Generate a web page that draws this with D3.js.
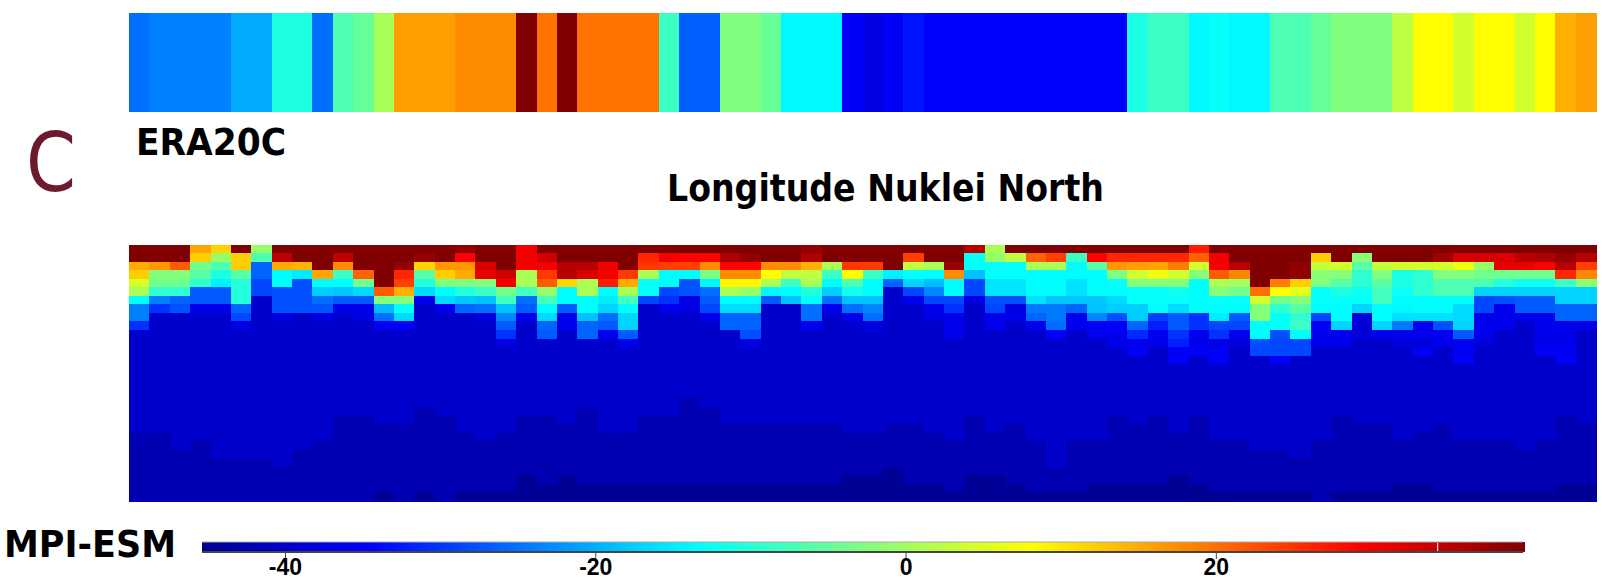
<html>
<head>
	<meta charset="utf-8">
	<title>Longitude Nuklei North</title>
	<style>
	body { margin: 0; background: #fff; }
	svg { display: block; }
	.cell { shape-rendering: crispEdges; }
	.title { font-family: "DejaVu Sans", sans-serif; font-weight: bold; fill: #000; }
	.axis path { display: none; }
	.axis line { stroke: #444; }
	.axis text { font-family: "Liberation Sans", sans-serif; font-weight: bold; font-size: 23px; fill: #000; }
	</style>
</head>
<body>
<script src="https://cdn.jsdelivr.net/npm/d3@7"></script>
<script>

	// upper strip (ERA20C), one value per longitude column
	var stripValues = [
		-25.5,-24,-24,-24,-24,-20.4,-20.4,-11,-11,-25.5,-7,-5,0.7,16,16,16,17.5,17.5,17.5,40,
		19.5,40,19.5,19.5,19.5,19.5,-8.5,-26.8,-26.8,-2.7,-2.7,-5,-14,-14,-14,-35.6,-37.5,-35.6,-33,-34.7,
		-34.7,-34.7,-34.7,-34.7,-34.7,-34.7,-34.7,-34.7,-34.7,-11,-8.5,-8.5,-13.8,-13,-14,-14,-7,-7,-5,-2.7,
		-2.7,-2.7,2.3,8,8,4,8,8,4,8,14.5,16
	];

	// lower field (MPI-ESM), one array per column, from the top row down
	var columnTops = [
		[40,40,15,12,4.5,0.7,-13.5,-24,-24,-30.5],
		[40,40,16.5,-2.5,-4,-9.5,-24,-30.5],
		[40,40,21.5,-2.5,-4,-9.5,-26.3,-28],
		[15.5,12,-4,-6,-9.5,-27.2,-27.2,-36.5],
		[11.5,-1,-7,-11,-14.5,-27.2,-27.2,-36.5],
		[40,12,12,-6,-10.5,-10.5,-10.5,-26.3,-28.8,-37.5],
		[-1,-7,-26.3,-26.3,-28.8,-28.8],
		[40,34.5,15,-13.5,-13.5,-28,-28,-28,-37.5],
		[40,40,14.5,-15,-28,-28,-28,-28],
		[40,40,40,15.5,-13.5,-17.5,-25.5,-27.6,-37.5],
		[40,34.5,17.5,-8.5,-13.5,-18,-27.2,-36.5],
		[40,40,40,21,-4,-16.5,-27.2,-36.5,-37.5],
		[40,40,40,40,40,21.5,-2.5,-19,-25.5,-35.6],
		[40,40,38,26,24,14.5,-2.5,-13,-16.5,-35.6],
		[40,38,11.5,-6,-10.5,-16.5,-36.5],
		[40,40,16.5,12,-3,-13.5,-16.5,-36.5],
		[38,29,16.5,15,-3,-10.5,-18,-26.3],
		[40,40,32,31,-2.5,-8.5,-18.5,-25.5,-37.5],
		[40,40,40,33,30,-4,-8,-18.5,-23.5,-27.2,-30.5,-37.5],
		[30,30,30,0.7,0.7,-8,-25.5,-27.2,-36.5],
		[40,33,30,24.5,21.5,-1,-8,-13.5,-16.5,-26.3,-27.2],
		[40,40,35,35,11,-13.5,-13.5,-27.2,-36.5,-36.5],
		[40,40,35,32,0.7,0.7,-13.5,-13.5,-18.5,-26.3,-26.3],
		[40,40,30,30,27,-13.5,-15,-17,-25.5,-27.2,-36.5],
		[40,40,40,24.5,15,0.7,-8,-13.5,-17,-17,-27.2,-36.5],
		[40,26,24.5,0.7,-13,-13,-28.8],
		[40,30,24,-13.5,-13.5,-28.8,-30.5,-36.5],
		[40,29,24,-13.5,-27.6,-27.6,-37.5,-37.5],
		[40,29,17.5,-3,-14,-25.5,-27.2,-28.8,-36.5],
		[40,36,29,17.5,8.5,0.7,-13.5,-16.5,-26.3,-26.3],
		[40,38,29,17.5,8.5,-1,-13.5,-16.5,-26.3,-26.3,-28,-37.5],
		[40,40,17.5,8,0.7,-14,-27.2],
		[40,40,17.5,2.5,-8.5,-13.5,-18.5],
		[38,36,14.5,2.5,0.7,-10.5,-13.5,-25.5,-25.5,-36.5],
		[40,40,0.7,-8.5,-13.5,-17.5,-25.5,-36.5],
		[40,40,24.5,8,-7,-12,-18.5,-25.5,-36.5],
		[40,40,24.5,-8.5,-13.5,-13.5,-18.5,-23.5,-25.5,-37.5],
		[40,40,40,-14.5,-26.3],
		[40,24,2.5,-13,-17,-28.8,-36.5],
		[40,40,0.7,-13.5,-19,-23.5,-28.8,-36.5,-37.5],
		[40,40,37.5,17.5,-13.5,-13.5,-28.8,-30.5,-36.5,-36.5,-36.5],
		[35,-13,-13,-18.5,-28.8,-28.8,-37.5],
		[0.7,-1,-13,-13,-15.5,-15.5,-28,-28.8,-36.5,-36.5],
		[40,2.5,-13,-13,-15.5,-15.5,-28,-37.5,-36.5],
		[40,21,0.7,-13.5,-13.5,-13.5,-16,-24.6,-26.3,-36.5],
		[40,24,0.7,-13.5,-13.5,-13.5,-18,-24.6,-24.6,-25.5,-35.6],
		[40,-8.5,-13.5,-13.5,-16,-16,-18,-26.3,-36.5,-36.5],
		[40,29,-6,-13.5,-13.5,-13.5,-18,-18.5,-23.5,-35.6,-36.5],
		[40,26,16.5,-3,-13,-13.5,-16.5,-17.5,-28,-34.7,-36.5,-36.5],
		[40,26,16,4,-2.5,-13,-13,-17.5,-17.5,-26.3,-31.3,-36.5,-35.6],
		[40,26,15.5,6.5,-2.5,-13,-13,-13.5,-29.6,-32.2,-36.5,-36.5],
		[40,26,19,4,-2.5,-12,-13,-16.5,-27.2,-27.2,-30.5,-32.2,-35.6,-35.6],
		[27,21,4,-2.5,-13.5,-13.5,-13.5,-13.5,-30.5,-30.5,-36.5,-36.5,-35.6],
		[40,30,30,21.5,0.7,-2.5,-13,-13.5,-15,-28.8,-30.5,-37.5,-35.6,-35.6],
		[40,40,35,18,0,-4,-13,-13.5,-27.2,-28.8,-36.5,-38.4],
		[40,40,40,40,40,20,4,-2.5,-2.5,-13.5,-13.5,-28,-28.8],
		[40,40,40,40,19,8,-4,-9.5,-13,-13,-28,-28.8,-28.8,-35.6],
		[40,40,38.5,38.5,12,5.5,-2.5,-6,-9.5,-8.5,-13.5,-28.8,-28.8],
		[40,12,3,-2,-3,-13,-13,-13.5,-28.8,-35.6,-36.5,-36.5],
		[40,40,4,-2,-6,-11,-13,-13.5,-13.5,-17,-36.5,-36.5],
		[40,-2,-6,-9.5,-9.5,-12.5,-13,-17,-38.4,-38.4,-38.4],
		[40,40,2.5,-2.5,-6,-8,-8,-13.5,-13.5,-17,-36.5],
		[40,40,4,-11,-11,-12.5,-13.5,-14,-16,-24.6,-36.5,-38.4],
		[40,40,4,-9.5,-9.5,-9.5,-13.5,-13.5,-16,-36.5,-36.5,-38.4,-35.6],
		[40,37,4,-2.5,-7,-7,-13.5,-13.5,-16,-28,-36.5,-36.5],
		[40,32.5,6.5,-2.5,-7,-7,-13.5,-16.5,-16.5,-17,-27.2,-36.5,-35.6,-35.6],
		[40,32.5,-1,-4,-7,-17,-28.8,-28.8,-36.5,-36.5,-36.5,-38.4],
		[40,32,31,-4,-10.5,-17,-28,-36.5,-36.5,-36.5],
		[40,35,31,-4,-12.5,-17,-27.2,-27.2,-36.5],
		[40,36,29,-4,-12.5,-17,-27.2,-27.2,-36.5,-36.5,-36.5,-36.5,-35.6],
		[40,38,35,26,-8.5,-17,-17,-26.3,-26.3,-36.5,-36.5,-36.5,-35.6,-35.6],
		[40,35,24,18,-2,-17,-17,-26.3,-26.3,-36.5]
	];

	// row where each column drops to the darker levels near the bottom
	var midStart = [
		22,22,24,23,25,25,25,26,24,23,20,20,21,21,19,20,22,23,22,20,
		20,21,19,22,22,20,20,18,19,21,21,21,21,21,21,22,22,21,21,22,
		23,20,22,21,23,26,23,23,20,21,20,22,20,23,23,24,24,25,23,20,
		21,21,23,22,21,23,23,23,24,23,20,21
	];
	var lowStart = [
		30,30,30,30,30,30,30,30,30,30,30,30,29,30,29,30,29,29,29,27,
		28,27,28,28,28,28,28,28,28,28,28,28,28,28,28,27,27,26,28,28,
		29,27,27,28,29,29,29,28,28,28,28,27,28,29,29,29,29,29,30,29,
		29,29,28,28,29,29,29,29,29,29,28,28
	];
	var deepestColumns = [52, 53];

	var rowCount = 30;
	var bodyLevel = -39.5, midLevel = -42, lowLevel = -44.7, deepestLevel = -45.3;

	var jetPositions = [0, 0.125, 0.375, 0.625, 0.875, 1];
	var jetColors = ["#00008f", "#0000ff", "#00ffff", "#ffff00", "#ff0000", "#800000"];
	var valueRange = [-45.35, 39.8];
	var legendTicks = [-40, -20, 0, 20];
	var legendMark = [34.3];

	var width = 1602;
	var height = 580;
	var plotLeft = 129, plotRight = 1596;

	var svg = d3.select("body")
		.append("svg")
		.attr("width", width)
		.attr("height", height);

	var color = d3.scaleLinear()
		.domain(jetPositions.map(function(p) {
			return valueRange[0] + p * (valueRange[1] - valueRange[0]);
		}))
		.range(jetColors)
		.clamp(true);

	var x = d3.scaleBand()
		.domain(d3.range(stripValues.length))
		.range([plotLeft, plotRight]);

	// upper strip
	svg.append("g").selectAll("rect")
		.data(stripValues)
		.enter()
		.append("rect")
		.attr("class", "cell")
		.attr("x", function(d, i) { return x(i); })
		.attr("y", 13)
		.attr("width", x.bandwidth() + 0.5)
		.attr("height", 99)
		.attr("fill", function(d) { return color(d); });

	// lower field
	var y = d3.scaleBand()
		.domain(d3.range(rowCount))
		.range([244.5, 501]);

	var cells = [];
	columnTops.forEach(function(top, c) {
		d3.range(rowCount).forEach(function(r) {
			var v = bodyLevel;
			if (r < top.length) v = top[r];
			else if (r >= lowStart[c]) v = lowLevel;
			else if (r >= midStart[c]) v = midLevel;
			if (r == rowCount - 1 && deepestColumns.indexOf(c) >= 0) v = deepestLevel;
			cells.push({ c: c, r: r, v: v });
		});
	});

	svg.append("g").selectAll("rect")
		.data(cells)
		.enter()
		.append("rect")
		.attr("class", "cell")
		.attr("x", function(d) { return x(d.c); })
		.attr("y", function(d) { return y(d.r); })
		.attr("width", x.bandwidth() + 0.5)
		.attr("height", y.bandwidth() + 0.5)
		.attr("fill", function(d) { return color(d.v); });

	// colour bar
	var legendX = d3.scaleLinear()
		.domain(valueRange)
		.range([202, 1523]);
	var legendTop = 542, legendBottom = 552;

	var legendSteps = d3.range(valueRange[0], valueRange[1], 0.25);
	svg.append("g").selectAll("rect")
		.data(legendSteps)
		.enter()
		.append("rect")
		.attr("class", "cell")
		.attr("x", function(d) { return legendX(d); })
		.attr("y", legendTop)
		.attr("width", legendX(0.25) - legendX(0) + 0.5)
		.attr("height", legendBottom - legendTop)
		.attr("fill", function(d) { return color(d); });

	svg.append("line")
		.attr("x1", legendX.range()[0]).attr("x2", legendX.range()[1])
		.attr("y1", legendTop).attr("y2", legendTop)
		.attr("stroke", "#aaa");
	svg.append("line")
		.attr("x1", legendX.range()[0]).attr("x2", legendX.range()[1])
		.attr("y1", legendBottom).attr("y2", legendBottom)
		.attr("stroke", "#444").attr("stroke-width", 2);

	svg.selectAll(".mark")
		.data(legendMark)
		.enter()
		.append("line")
		.attr("class", "mark")
		.attr("x1", function(d) { return legendX(d); })
		.attr("x2", function(d) { return legendX(d); })
		.attr("y1", legendTop + 1)
		.attr("y2", legendBottom - 1)
		.attr("stroke", "#fff");

	svg.append("g")
		.attr("class", "axis")
		.attr("transform", "translate(0," + legendBottom + ")")
		.call(d3.axisBottom(legendX)
			.tickValues(legendTicks)
			.tickSize(7)
			.tickPadding(0)
			.tickFormat(function(d) { return String(d); }));

	// labels
	svg.append("text")
		.attr("x", 26).attr("y", 191)
		.attr("font-family", "DejaVu Sans")
		.attr("font-size", 82)
		.attr("textLength", 50).attr("lengthAdjust", "spacingAndGlyphs")
		.attr("fill", "#6d1a2e")
		.text("C");
	svg.append("text")
		.attr("class", "title")
		.attr("x", 136).attr("y", 155)
		.attr("font-size", 37)
		.attr("textLength", 150).attr("lengthAdjust", "spacingAndGlyphs")
		.text("ERA20C");
	svg.append("text")
		.attr("class", "title")
		.attr("x", 667).attr("y", 201)
		.attr("font-size", 37)
		.attr("textLength", 437).attr("lengthAdjust", "spacingAndGlyphs")
		.text("Longitude Nuklei North");
	svg.append("text")
		.attr("class", "title")
		.attr("x", 4).attr("y", 557)
		.attr("font-size", 38)
		.attr("textLength", 172).attr("lengthAdjust", "spacingAndGlyphs")
		.text("MPI-ESM");

</script>
</body>
</html>
